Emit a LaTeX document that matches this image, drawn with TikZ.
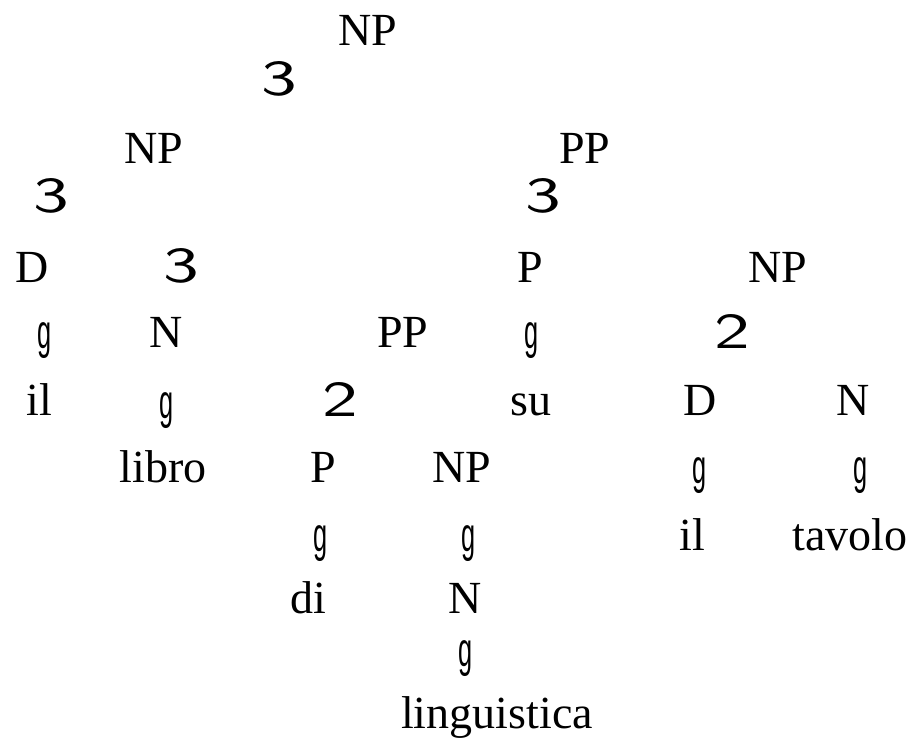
\documentclass[tikz,border=0pt]{standalone}
\usepackage{fontspec}
\setmainfont{Liberation Serif}
\newfontfamily\brfont{Liberation Sans}
\tikzset{
  lab/.style={inner sep=0pt, anchor=base, font=\fontsize{46}{50}\selectfont},
}
\newcommand{\brThree}{{\sffamily\scalebox{1.65}[1.1]{3}}}
\newcommand{\brTwo}{{\sffamily\scalebox{1.65}[1.1]{2}}}
\newcommand{\brG}{{\brfont\scalebox{0.55}[1.05]{g}}}
\begin{document}
\begin{tikzpicture}[x=1pt,y=-1pt]
\useasboundingbox (0,0) rectangle (924,747);
\node[lab] (np0) at (368,45) {NP};
\node[lab] (b0) at (279,95) {\brThree};
\node[lab] (np1) at (154,163) {NP};
\node[lab] (pp1) at (585,163) {PP};
\node[lab] (b1) at (51,212) {\brThree};
\node[lab] (b2) at (543,212) {\brThree};
\node[lab] (d1) at (32,282) {D};
\node[lab] (b3) at (181,282) {\brThree};
\node[lab] (p1) at (530,282) {P};
\node[lab] (np2) at (778,282) {NP};
\node[lab] (g1) at (45,348) {\brG};
\node[lab] (n1) at (166,347) {N};
\node[lab] (pp2) at (403,347) {PP};
\node[lab] (g2) at (532,348) {\brG};
\node[lab] (b4) at (732,348) {\brTwo};
\node[lab] (il1) at (39,415) {il};
\node[lab] (g3) at (167,418) {\brG};
\node[lab] (b5) at (340,416) {\brTwo};
\node[lab] (su) at (531,415) {su};
\node[lab] (d2) at (700,415) {D};
\node[lab] (n2) at (853,415) {N};
\node[lab] (libro) at (163,482) {libro};
\node[lab] (p2) at (323,482) {P};
\node[lab] (np3) at (462,482) {NP};
\node[lab] (g4) at (700,483) {\brG};
\node[lab] (g5) at (861,483) {\brG};
\node[lab] (g6) at (321,551) {\brG};
\node[lab] (g7) at (469,551) {\brG};
\node[lab] (il2) at (692,550) {il};
\node[lab] (tavolo) at (850,550) {tavolo};
\node[lab] (di) at (308,613) {di};
\node[lab] (n3) at (465,613) {N};
\node[lab] (g8) at (466,666) {\brG};
\node[lab] (ling) at (497,728) {linguistica};
\end{tikzpicture}
\end{document}
